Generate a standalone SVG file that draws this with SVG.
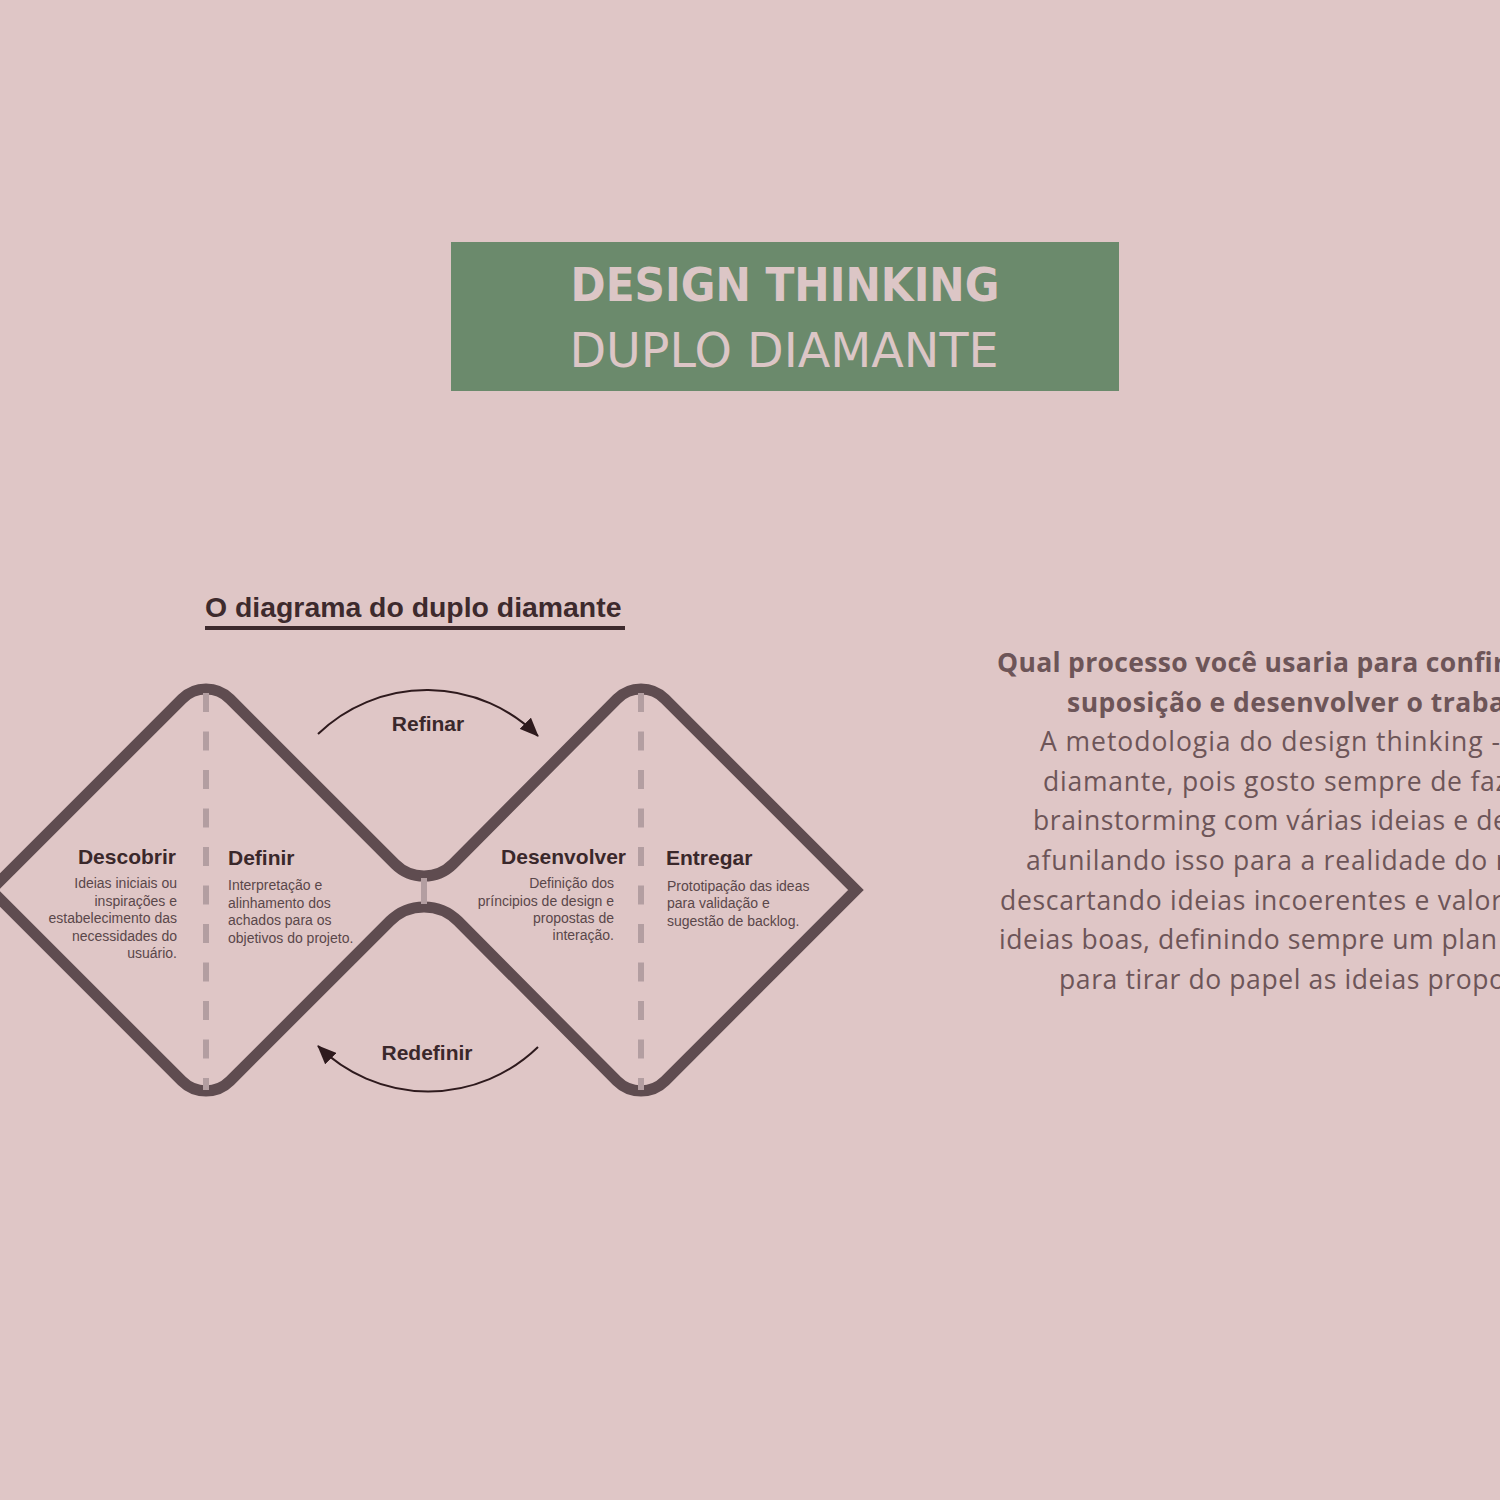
<svg xmlns="http://www.w3.org/2000/svg" width="1500" height="1500" viewBox="0 0 1500 1500">
<style>
.phase{font-family:"Liberation Sans",Arial,sans-serif;font-weight:bold;font-size:21px;fill:#3a282b}
.desc{font-family:"Liberation Sans",Arial,sans-serif;font-size:14px;fill:#5a474a}
.arrlbl{font-family:"Liberation Sans",Arial,sans-serif;font-weight:bold;font-size:21px;fill:#3a282b}
.body{font-family:"Open Sans","Noto Sans",sans-serif;font-size:26.5px;fill:#6d5558}
.bodyb{font-family:"Open Sans","Noto Sans",sans-serif;font-size:26.5px;font-weight:bold;fill:#6d5558}
.dash{stroke:#b39ea1;stroke-width:6;stroke-dasharray:19 19.5;fill:none}
</style>
<defs>
<marker id="ah" markerUnits="userSpaceOnUse" markerWidth="20" markerHeight="16" refX="18" refY="8" orient="auto">
<path d="M0,0 L19,8 L0,16 z" fill="#2e1a1d"/>
</marker>
</defs>
<rect width="1500" height="1500" fill="#dfc6c6"/>

<g id="header">
<rect x="451" y="242" width="668" height="149" fill="#6b8a6c"/>
<text x="785" y="301" text-anchor="middle" font-family="'DejaVu Sans Condensed','DejaVu Sans',sans-serif" font-stretch="condensed" font-weight="bold" font-size="47" fill="#dcc6c6">DESIGN THINKING</text>
<text x="784" y="367" text-anchor="middle" font-family="'DejaVu Sans',sans-serif" font-size="47.6" fill="#dcc6c6">DUPLO DIAMANTE</text>
</g>

<g id="diagram-title">
<text x="205" y="617" font-family="'Liberation Sans',Arial,sans-serif" font-weight="bold" font-size="28.4" fill="#3d2a2d">O diagrama do duplo diamante</text>
<rect x="205" y="626" width="420" height="4" fill="#3d2a2d"/>
</g>

<g id="double-diamond">
<path d="M -9 890 L 182 699 A 34 34 0 0 1 230 699 L 395 864 A 41 41 0 0 0 453 864 L 617 699 A 34 34 0 0 1 665 699 L 856 890 L 665 1081 A 34 34 0 0 1 617 1081 L 458 921 A 48 48 0 0 0 390 921 L 230 1081 A 34 34 0 0 1 182 1081 Z" fill="none" stroke="#5f4c50" stroke-width="11" stroke-linejoin="miter"/>
<line class="dash" x1="206" y1="693" x2="206" y2="1090"/>
<line class="dash" x1="641" y1="693" x2="641" y2="1090"/>
<line x1="424" y1="878" x2="424" y2="904" stroke="#b39ea1" stroke-width="6"/>
</g>

<g id="descobrir">
<text class="phase" x="176" y="864" text-anchor="end">Descobrir</text>
<text class="desc" text-anchor="end"><tspan x="177" y="888">Ideias iniciais ou</tspan><tspan x="177" y="906">inspirações e</tspan><tspan x="177" y="923">estabelecimento das</tspan><tspan x="177" y="941">necessidades do</tspan><tspan x="177" y="958">usuário.</tspan></text>
</g>

<g id="definir">
<text class="phase" x="228" y="865">Definir</text>
<text class="desc"><tspan x="228" y="890">Interpretação e</tspan><tspan x="228" y="908">alinhamento dos</tspan><tspan x="228" y="925">achados para os</tspan><tspan x="228" y="943">objetivos do projeto.</tspan></text>
</g>

<g id="desenvolver">
<text class="phase" x="626" y="864" text-anchor="end">Desenvolver</text>
<text class="desc" text-anchor="end"><tspan x="614" y="888">Definição dos</tspan><tspan x="614" y="906">príncipios de design e</tspan><tspan x="614" y="923">propostas de</tspan><tspan x="614" y="940">interação.</tspan></text>
</g>

<g id="entregar">
<text class="phase" x="666" y="865">Entregar</text>
<text class="desc"><tspan x="667" y="891">Prototipação das ideas</tspan><tspan x="667" y="908">para validação e</tspan><tspan x="667" y="926">sugestão de backlog.</tspan></text>
</g>

<g id="connectors">
<path d="M 318 734 A 157 157 0 0 1 538 736" fill="none" stroke="#2e1a1d" stroke-width="2" marker-end="url(#ah)"/>
<path d="M 538 1047 A 157 157 0 0 1 318 1046" fill="none" stroke="#2e1a1d" stroke-width="2" marker-end="url(#ah)"/>
</g>
<g id="refinar-label"><text class="arrlbl" x="428" y="731" text-anchor="middle">Refinar</text></g>
<g id="redefinir-label"><text class="arrlbl" x="427" y="1060" text-anchor="middle">Redefinir</text></g>

<g id="answer-text">
<text class="bodyb" x="997" y="672" textLength="508" lengthAdjust="spacing">Qual processo você usaria para confir</text>
<text class="bodyb" x="1067" y="712" textLength="438" lengthAdjust="spacing">suposição e desenvolver o traba</text>
<text class="body" x="1040" y="751" textLength="460" lengthAdjust="spacing">A metodologia do design thinking -</text>
<text class="body" x="1043" y="791" textLength="465" lengthAdjust="spacing">diamante, pois gosto sempre de faz</text>
<text class="body" x="1033" y="830" textLength="475" lengthAdjust="spacing">brainstorming com várias ideias e de</text>
<text class="body" x="1026" y="870" textLength="486" lengthAdjust="spacing">afunilando isso para a realidade do n</text>
<text class="body" x="1000" y="910" textLength="502" lengthAdjust="spacing">descartando ideias incoerentes e valor</text>
<text class="body" x="999" y="949" textLength="498" lengthAdjust="spacing">ideias boas, definindo sempre um plan</text>
<text class="body" x="1059" y="989" textLength="446" lengthAdjust="spacing">para tirar do papel as ideias propo</text>
</g>
</svg>
